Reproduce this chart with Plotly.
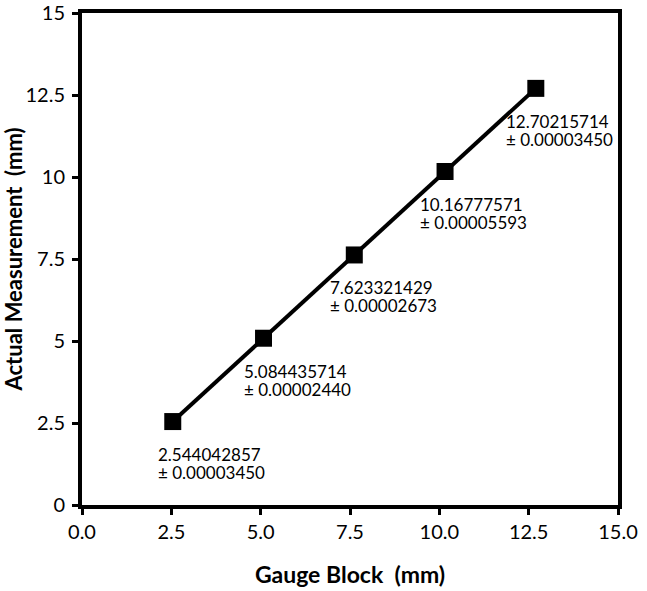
import plotly.graph_objects as go

# Gauge block nominal size vs measured size (mm)
gauge_block = [2.54, 5.08, 7.62, 10.16, 12.70]
actual_measurement = [2.544042857, 5.084435714, 7.623321429, 10.16777571, 12.70215714]
mean_labels = ["2.544042857", "5.084435714", "7.623321429", "10.16777571", "12.70215714"]
uncertainty_labels = ["0.00003450", "0.00002440", "0.00002673", "0.00005593", "0.00003450"]

x_ticks = [0, 2.5, 5, 7.5, 10, 12.5, 15]
y_ticks = [0, 2.5, 5, 7.5, 10, 12.5, 15]

# label offsets in px (style only)
label_dx = [-16, -21, -25, -26, -31]

FONT = "Lato, Calibri, sans-serif"

fig = go.Figure()
fig.add_trace(
    go.Scatter(
        x=gauge_block,
        y=actual_measurement,
        mode="lines+markers",
        line=dict(color="black", width=4),
        marker=dict(symbol="square", size=17, color="black"),
        showlegend=False,
        hoverinfo="skip",
    )
)

# two lines per label, added separately to keep the line spacing tight
for x, y, m, u, dx in zip(gauge_block, actual_measurement, mean_labels, uncertainty_labels, label_dx):
    for text, dy in [(m, -33), (f"± {u}", -51)]:
        fig.add_annotation(
            x=x,
            y=y,
            text=text,
            showarrow=False,
            xanchor="left",
            yanchor="middle",
            height=15,
            borderpad=0,
            xshift=dx,
            yshift=dy,
            font=dict(family=FONT, size=17, color="black"),
        )

axis_common = dict(
    showline=True,
    linecolor="black",
    linewidth=4,
    mirror=True,
    showgrid=False,
    zeroline=False,
    ticks="outside",
    ticklen=6,
    tickwidth=3,
    tickcolor="black",
    tickfont=dict(family=FONT, size=20, color="black"),
    ticklabeloverflow="allow",
    automargin=False,
)

fig.update_xaxes(
    range=[0, 15],
    tickvals=x_ticks,
    tickformat=".1f",
    title=dict(
        text="<b>Gauge Block\u00a0 (mm)</b>",
        font=dict(family=FONT, size=23, color="black"),
        standoff=26,
    ),
    **axis_common,
)
fig.update_yaxes(
    range=[0, 15],
    tickvals=y_ticks,
    ticklabelstandoff=3,
    title=dict(
        text="<b>Actual Measurement\u00a0 (mm)</b>",
        font=dict(family=FONT, size=22, color="black"),
        standoff=10,
    ),
    **axis_common,
)

fig.update_layout(
    width=647,
    height=591,
    margin=dict(l=82, r=29, t=13, b=86),
    plot_bgcolor="white",
    paper_bgcolor="white",
)

# drop the browser's default page margin so the figure sits at the corner
fig.write_html(
    "out.html",
    config={"displayModeBar": False},
    post_script="document.body.style.margin='0';",
)
